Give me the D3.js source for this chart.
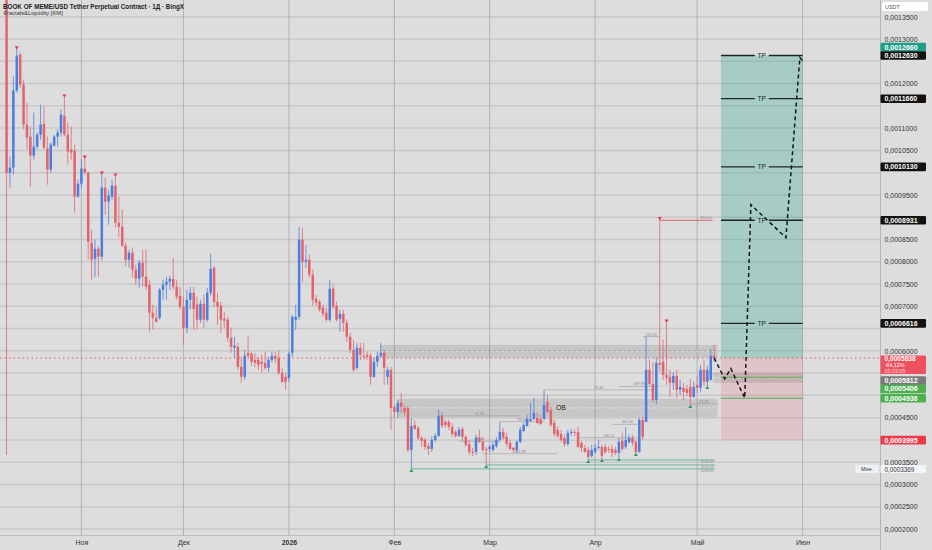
<!DOCTYPE html>
<html>
<head>
<meta charset="utf-8">
<script src="https://cdn.jsdelivr.net/npm/d3@7"></script>
<style>
  html, body { margin: 0; padding: 0; background: #dddddd; }
  svg { display: block; font-family: "Liberation Sans", Arial, sans-serif; }
</style>
</head>
<body>
<div id="vizContainer"></div>
<script>
// ---- data (daily candles, BOME/USDT, from 10 Oct 2025) ----
const firstCandle = Date.UTC(2025, 9, 10);

const opens = [
  0.00143, 0.0010000, 0.0010113, 0.0011843, 0.0012652, 0.0011978, 0.0011079, 0.0010809, 0.0010382, 0.0010585,
  0.0010854, 0.0011101, 0.0010540, 0.0010068, 0.0010607, 0.0010809, 0.0010899, 0.0011281, 0.0010854, 0.0010517,
  0.0010495, 0.0009461, 0.0009753, 0.0010090, 0.0010000, 0.0008427, 0.0008068, 0.0008292, 0.0008113, 0.0009663,
  0.0009349, 0.0009461, 0.0009708, 0.0008877, 0.0008787, 0.0008360, 0.0008045, 0.0008203, 0.0007821, 0.0007618,
  0.0007978, 0.0007663, 0.0007483, 0.0006854, 0.0006742, 0.0006742, 0.0007371, 0.0007483, 0.0007551, 0.0007618,
  0.0007438, 0.0007236, 0.0006989, 0.0006517, 0.0007146, 0.0007304, 0.0007034, 0.0006697, 0.0007056, 0.0006697,
  0.0007304, 0.0007866, 0.0007101, 0.0007011, 0.0006719, 0.0006697, 0.0006293, 0.0006068, 0.0006090, 0.0005641,
  0.0005416, 0.0005955, 0.0005933, 0.0005798, 0.0005798, 0.0005753, 0.0005731, 0.0005618, 0.0005798, 0.0005888,
  0.0005843, 0.0005506, 0.0005416, 0.0005394, 0.0005955, 0.0006697, 0.0006764, 0.0008495, 0.0008000, 0.0008045,
  0.0007708, 0.0007169, 0.0007101, 0.0006967, 0.0006854, 0.0006697, 0.0007394, 0.0007011, 0.0006719, 0.0006832,
  0.0006630, 0.0006315, 0.0006023, 0.0005618, 0.0006068, 0.0005888, 0.0005910, 0.0005888, 0.0005416, 0.0005753,
  0.0005888, 0.0005955, 0.0005416, 0.0005573, 0.0004742, 0.0004629, 0.0004832, 0.0004719, 0.0004719, 0.0003776,
  0.0004337, 0.0004270, 0.0004045, 0.0003999, 0.0003865, 0.0003798, 0.0003999, 0.0004090, 0.0004540, 0.0004405,
  0.0004405, 0.0004293, 0.0004180, 0.0004090, 0.0004248, 0.0004068, 0.0003910, 0.0003731, 0.0003731, 0.0004045,
  0.0003955, 0.0003798, 0.0003798, 0.0003776, 0.0003865, 0.0003999, 0.0004180, 0.0004068, 0.0003933, 0.0003821,
  0.0003776, 0.0003955, 0.0004203, 0.0004315, 0.0004427, 0.0004472, 0.0004495, 0.0004472, 0.0004472, 0.0004854,
  0.0004675, 0.0004382, 0.0004225, 0.0004135, 0.0004045, 0.0003910, 0.0004158, 0.0004180, 0.0004180, 0.0003933,
  0.0003821, 0.0003776, 0.0003640, 0.0003731, 0.0003821, 0.0003843, 0.0003843, 0.0003798, 0.0003798, 0.0003776,
  0.0003708, 0.0003978, 0.0003843, 0.0003955, 0.0004045, 0.0003955, 0.0003731, 0.0004450, 0.0004400, 0.0005573,
  0.0005259, 0.0004899, 0.0005731, 0.0005753, 0.0005461, 0.0005416, 0.0005281, 0.0005438, 0.0005124, 0.0005169,
  0.0005146, 0.0005191, 0.0004966, 0.0005236, 0.0005169, 0.0005573, 0.0005304, 0.0005349, 0.0005888
];
const highs = [
  0.00146, 0.0010360, 0.0012158, 0.0012764, 0.0012697, 0.0012090, 0.0011573, 0.0011034, 0.0011349, 0.0010899,
  0.0011528, 0.0011483, 0.0010809, 0.0010675, 0.0010854, 0.0010967, 0.0011416, 0.0011686, 0.0011124, 0.0011034,
  0.0010630, 0.0009843, 0.0010292, 0.0010315, 0.0010023, 0.0008719, 0.0008495, 0.0008337, 0.0009955, 0.0009888,
  0.0009618, 0.0009843, 0.0009910, 0.0009461, 0.0009169, 0.0008427, 0.0008270, 0.0008315, 0.0007933, 0.0008045,
  0.0008270, 0.0008270, 0.0007596, 0.0007034, 0.0006989, 0.0007416, 0.0007596, 0.0007663, 0.0007686, 0.0008090,
  0.0007596, 0.0007438, 0.0007214, 0.0007371, 0.0007438, 0.0007438, 0.0007214, 0.0007146, 0.0007259, 0.0007416,
  0.0008180, 0.0007910, 0.0007304, 0.0007101, 0.0006877, 0.0006764, 0.0006517, 0.0006315, 0.0006180, 0.0005866,
  0.0006023, 0.0006338, 0.0005978, 0.0005955, 0.0005866, 0.0005910, 0.0005978, 0.0005866, 0.0005978, 0.0005978,
  0.0006023, 0.0005618, 0.0005506, 0.0005978, 0.0006809, 0.0007034, 0.0008787, 0.0008764, 0.0008382, 0.0008158,
  0.0007821, 0.0007259, 0.0007146, 0.0007034, 0.0006967, 0.0007596, 0.0007483, 0.0007101, 0.0006922, 0.0006922,
  0.0006697, 0.0006405, 0.0006247, 0.0006180, 0.0006180, 0.0006180, 0.0005978, 0.0005955, 0.0005843, 0.0005978,
  0.0006180, 0.0006023, 0.0005641, 0.0005641, 0.0004787, 0.0004899, 0.0005056, 0.0004787, 0.0004764, 0.0004495,
  0.0004450, 0.0004315, 0.0004090, 0.0004045, 0.0003933, 0.0004090, 0.0004158, 0.0004675, 0.0004629, 0.0004450,
  0.0004450, 0.0004382, 0.0004225, 0.0004293, 0.0004293, 0.0004113, 0.0003999, 0.0003821, 0.0004113, 0.0004225,
  0.0004045, 0.0003843, 0.0003888, 0.0003955, 0.0004068, 0.0004405, 0.0004270, 0.0004158, 0.0003999, 0.0003843,
  0.0003999, 0.0004293, 0.0004382, 0.0004562, 0.0004832, 0.0004944, 0.0004607, 0.0004562, 0.0005124, 0.0005011,
  0.0004742, 0.0004450, 0.0004293, 0.0004225, 0.0004113, 0.0004225, 0.0004248, 0.0004225, 0.0004293, 0.0003978,
  0.0003888, 0.0003843, 0.0003888, 0.0003910, 0.0003999, 0.0003888, 0.0003910, 0.0003865, 0.0003888, 0.0003843,
  0.0004045, 0.0004158, 0.0004293, 0.0004113, 0.0004113, 0.0003999, 0.0004495, 0.0004517, 0.0006315, 0.0005798,
  0.0005753, 0.0005843, 0.0008931, 0.0006247, 0.0006630, 0.0005573, 0.0005528, 0.0005573, 0.0005349, 0.0005281,
  0.0005236, 0.0005371, 0.0005304, 0.0005438, 0.0005686, 0.0005798, 0.0005663, 0.0006045, 0.0006135
];
const lows = [
  0.0003663, 0.0009663, 0.0009955, 0.0011798, 0.0011910, 0.0010967, 0.0010517, 0.0009686, 0.0010292, 0.0010517,
  0.0010742, 0.0010517, 0.0009731, 0.0010000, 0.0010585, 0.0010585, 0.0010809, 0.0010809, 0.0010180, 0.0010292,
  0.0009101, 0.0009438, 0.0009663, 0.0009955, 0.0008045, 0.0007596, 0.0007663, 0.0007663, 0.0008045, 0.0009056,
  0.0008832, 0.0009394, 0.0008764, 0.0008562, 0.0008337, 0.0007888, 0.0007866, 0.0007641, 0.0007483, 0.0007416,
  0.0007438, 0.0007371, 0.0006427, 0.0006472, 0.0006630, 0.0006697, 0.0007146, 0.0007146, 0.0007371, 0.0007371,
  0.0007146, 0.0006922, 0.0006135, 0.0006405, 0.0006922, 0.0006472, 0.0006472, 0.0006630, 0.0006517, 0.0006652,
  0.0007236, 0.0006989, 0.0006585, 0.0006405, 0.0006517, 0.0006202, 0.0005955, 0.0005843, 0.0005573, 0.0005281,
  0.0005349, 0.0005843, 0.0005663, 0.0005641, 0.0005573, 0.0005506, 0.0005573, 0.0005528, 0.0005731, 0.0005731,
  0.0005461, 0.0005281, 0.0005124, 0.0005304, 0.0005866, 0.0006472, 0.0006697, 0.0007551, 0.0007866, 0.0007641,
  0.0007011, 0.0007011, 0.0006877, 0.0006764, 0.0006652, 0.0006652, 0.0006922, 0.0006652, 0.0006427, 0.0006427,
  0.0006202, 0.0005955, 0.0005528, 0.0005573, 0.0005798, 0.0005798, 0.0005798, 0.0005236, 0.0005394, 0.0005641,
  0.0005843, 0.0005236, 0.0005236, 0.0004225, 0.0004495, 0.0004495, 0.0004607, 0.0004540, 0.0003731, 0.0003349,
  0.0004225, 0.0003999, 0.0003843, 0.0003776, 0.0003663, 0.0003731, 0.0003955, 0.0004068, 0.0004270, 0.0004270,
  0.0004225, 0.0004068, 0.0004045, 0.0004068, 0.0003978, 0.0003843, 0.0003663, 0.0003640, 0.0003663, 0.0003933,
  0.0003731, 0.0003438, 0.0003731, 0.0003731, 0.0003821, 0.0003955, 0.0003999, 0.0003843, 0.0003776, 0.0003708,
  0.0003708, 0.0003933, 0.0004180, 0.0004293, 0.0004405, 0.0004450, 0.0004360, 0.0004337, 0.0004450, 0.0004607,
  0.0004293, 0.0004068, 0.0004045, 0.0003955, 0.0003843, 0.0003865, 0.0004090, 0.0004090, 0.0003821, 0.0003731,
  0.0003708, 0.0003551, 0.0003596, 0.0003686, 0.0003776, 0.0003573, 0.0003686, 0.0003708, 0.0003618, 0.0003663,
  0.0003596, 0.0003753, 0.0003798, 0.0003910, 0.0003865, 0.0003708, 0.0003708, 0.0003999, 0.0004405, 0.0005214,
  0.0004854, 0.0004809, 0.0005528, 0.0005349, 0.0005236, 0.0004966, 0.0005124, 0.0004944, 0.0005011, 0.0004899,
  0.0004989, 0.0004787, 0.0004944, 0.0005056, 0.0005079, 0.0005214, 0.0005214, 0.0005326, 0.0005753
];
const closes = [
  0.0010000, 0.0010113, 0.0011843, 0.0012630, 0.0011978, 0.0011079, 0.0010787, 0.0010382, 0.0010585, 0.0010854,
  0.0011079, 0.0010562, 0.0010068, 0.0010630, 0.0010809, 0.0010899, 0.0011304, 0.0010854, 0.0010472, 0.0010450,
  0.0009461, 0.0009753, 0.0010090, 0.0010000, 0.0008450, 0.0008045, 0.0008292, 0.0008113, 0.0009663, 0.0009349,
  0.0009483, 0.0009708, 0.0008877, 0.0008787, 0.0008360, 0.0008045, 0.0008203, 0.0007821, 0.0007618, 0.0007978,
  0.0007663, 0.0007438, 0.0006854, 0.0006742, 0.0006652, 0.0007371, 0.0007483, 0.0007551, 0.0007618, 0.0007438,
  0.0007214, 0.0006989, 0.0006517, 0.0007146, 0.0007304, 0.0006944, 0.0006697, 0.0007056, 0.0006697, 0.0007304,
  0.0007843, 0.0007101, 0.0006989, 0.0006697, 0.0006674, 0.0006293, 0.0006090, 0.0006113, 0.0005641, 0.0005416,
  0.0005888, 0.0005888, 0.0005753, 0.0005731, 0.0005686, 0.0005708, 0.0005618, 0.0005798, 0.0005888, 0.0005821,
  0.0005506, 0.0005304, 0.0005304, 0.0005933, 0.0006764, 0.0006764, 0.0008495, 0.0008000, 0.0008045, 0.0007708,
  0.0007146, 0.0007079, 0.0006922, 0.0006832, 0.0006697, 0.0007394, 0.0006989, 0.0006697, 0.0006832, 0.0006630,
  0.0006315, 0.0006023, 0.0005573, 0.0006068, 0.0005910, 0.0005866, 0.0005866, 0.0005416, 0.0005753, 0.0005888,
  0.0005955, 0.0005618, 0.0005573, 0.0004719, 0.0004629, 0.0004832, 0.0004742, 0.0004629, 0.0003776, 0.0004315,
  0.0004248, 0.0004045, 0.0003978, 0.0003843, 0.0003798, 0.0003999, 0.0004090, 0.0004540, 0.0004315, 0.0004337,
  0.0004293, 0.0004135, 0.0004090, 0.0004225, 0.0004068, 0.0003888, 0.0003731, 0.0003708, 0.0004045, 0.0003955,
  0.0003776, 0.0003776, 0.0003843, 0.0003888, 0.0003999, 0.0004180, 0.0004045, 0.0003910, 0.0003798, 0.0003776,
  0.0003955, 0.0004225, 0.0004337, 0.0004472, 0.0004472, 0.0004607, 0.0004382, 0.0004360, 0.0004787, 0.0004629,
  0.0004337, 0.0004135, 0.0004090, 0.0003999, 0.0003910, 0.0004158, 0.0004180, 0.0004158, 0.0003843, 0.0003821,
  0.0003731, 0.0003618, 0.0003776, 0.0003821, 0.0003843, 0.0003640, 0.0003731, 0.0003776, 0.0003708, 0.0003708,
  0.0003955, 0.0003798, 0.0003999, 0.0004045, 0.0003933, 0.0003731, 0.0004450, 0.0004068, 0.0005573, 0.0005259,
  0.0004899, 0.0005731, 0.0005686, 0.0005461, 0.0005394, 0.0005281, 0.0005438, 0.0005124, 0.0005191, 0.0005079,
  0.0005056, 0.0004966, 0.0005191, 0.0005169, 0.0005573, 0.0005304, 0.0005573, 0.0005888, 0.0005838
];

// axis ticks
const priceTicks = [0.0002, 0.00025, 0.0003, 0.00035, 0.0004, 0.00045, 0.0005, 0.00055, 0.0006, 0.00065,
  0.0007, 0.00075, 0.0008, 0.00085, 0.0009, 0.00095, 0.001, 0.00105, 0.0011, 0.00115, 0.0012, 0.00125, 0.0013, 0.00135];
const monthDates = ["2025-11-01", "2025-12-01", "2026-01-01", "2026-02-01", "2026-03-01", "2026-04-01", "2026-05-01", "2026-06-01"];
const monthLabels = ["Ноя", "Дек", "2026", "Фев", "Мар", "Апр", "Май", "Июн"];

// Fractals & Liquidity indicator (candle indexes)
const fractalHighs = [3, 17, 23, 28, 32, 192, 194];
const fractalLows = [119, 141, 171, 175, 180, 185, 201, 206];
const liquidityLows = [
  { from: 119, to: 208.2, price: 0.0003349, label: "1028.00" },
  { from: 141, to: 208.2, price: 0.0003438, label: "1121.00" },
  { from: 171, to: 208.2, price: 0.0003551, label: "1045.00" }
];
const liquidityHigh = { from: 192, to: 207.5, price: 0.0008931, label: "893.10" };
const levelLines = [
  { from: 158, to: 190, price: 0.0005124, label: "78.08" },
  { from: 127, to: 151, price: 0.000454, label: "51.50" },
  { from: 145, to: 158, price: 0.000441, label: "95.00" },
  { from: 133, to: 145, price: 0.000397, label: "79.00" },
  { from: 140, to: 162, price: 0.000369, label: "521.88" },
  { from: 168, to: 186, price: 0.000405, label: "530.50" },
  { from: 187, to: 192, price: 0.000632, label: "525.00" },
  { from: 180, to: 192, price: 0.000520, label: "489.98" },
  { from: 178, to: 187, price: 0.000435, label: "461.00" },
  { from: 201, to: 209, price: 0.000481, label: "23.44" }
];
const zones = [
  { from: 110, to: 209, top: 0.0006135, bottom: 0.0005843, label: "" },
  { from: 115, to: 209, top: 0.0004922, bottom: 0.0004517, label: "OB" },
  { from: 207.6, to: 234, top: 0.0005506, bottom: 0.0005281, label: "" }
];

// long position tool
const entryPrice = 0.0005838;
const stopPrice = 0.0003995;
const targetPrice = 0.001263;
const positionFrom = 210, positionTo = 234;
const tpLevels = [0.001263, 0.001166, 0.001013, 0.0008931, 0.0006616];
const entryLevels = [0.0005406, 0.0004936];
const projection = [
  { i: 208, p: 0.0005838 }, { i: 211.1, p: 0.000537 }, { i: 212.9, p: 0.00056 },
  { i: 217, p: 0.000494 }, { i: 218.8, p: 0.000928 }, { i: 229.1, p: 0.000854 },
  { i: 233.2, p: 0.0012585 }, { i: 234.4, p: 0.001248 }
];

// price scale badges
const badges = [
  { price: 0.001266, text: "0,0012660", fill: "#1f9e8a", dy: -7 },
  { price: 0.001263, text: "0,0012630", fill: "#121212", dy: 0 },
  { price: 0.001166, text: "0,0011660", fill: "#121212", dy: 0 },
  { price: 0.001013, text: "0,0010130", fill: "#121212", dy: 0 },
  { price: 0.0008931, text: "0,0008931", fill: "#121212", dy: 0 },
  { price: 0.0006616, text: "0,0006616", fill: "#121212", dy: 0 },
  { price: 0.0005812, text: "0,0005812", fill: "#7b7b7b", dy: 21.4 },
  { price: 0.0005406, text: "0,0005406", fill: "#4caf50", dy: 11.6 },
  { price: 0.0004936, text: "0,0004936", fill: "#4caf50", dy: 0 },
  { price: 0.0003995, text: "0,0003995", fill: "#f03a4b", dy: 0 }
];
const lastPriceLines = ["0,0005838", "-64,12%", "05:03:05"];
const minPrice = 0.0003369;

// ---- drawing ----
const width = 932, height = 550, plotR = 880, plotB = 535;
const DAY = 864e5;
const red = "#e2636d", blue = "#4a7ddf";

const container = document.getElementById("vizContainer");
const svg = d3.select(container).append("svg").attr("width", width).attr("height", height);
svg.append("rect").attr("width", width).attr("height", height).attr("fill", "#dddddd");

const x = d3.scaleUtc()
  .domain([new Date(Date.UTC(2025, 10, 1)), new Date(Date.UTC(2026, 5, 1))])
  .range([81.4, 802.6]);
const y = d3.scaleLinear().domain([0.0002, 0.00135]).range([529, 16.75]);
const dayX = i => x(new Date(firstCandle + i * DAY));

svg.append("clipPath").attr("id", "plotClip")
  .append("rect").attr("width", plotR).attr("height", plotB);
const plot = svg.append("g").attr("clip-path", "url(#plotClip)");

// grid
plot.append("g").selectAll("line").data(priceTicks).join("line")
  .attr("x1", 0).attr("x2", plotR)
  .attr("y1", d => y(d)).attr("y2", d => y(d))
  .attr("stroke", "#c8c8c8").attr("stroke-width", 1.5);
plot.append("g").selectAll("line").data(monthDates).join("line")
  .attr("x1", d => x(new Date(d))).attr("x2", d => x(new Date(d)))
  .attr("y1", 0).attr("y2", plotB)
  .attr("stroke", "#a8a8a8").attr("stroke-width", 0.8);

// position tool boxes
plot.append("rect")
  .attr("x", dayX(positionFrom)).attr("width", dayX(positionTo) - dayX(positionFrom))
  .attr("y", y(targetPrice)).attr("height", y(entryPrice) - y(targetPrice))
  .attr("fill", "rgba(8,153,129,0.25)");
plot.append("rect")
  .attr("x", dayX(positionFrom)).attr("width", dayX(positionTo) - dayX(positionFrom))
  .attr("y", y(entryPrice)).attr("height", y(stopPrice) - y(entryPrice))
  .attr("fill", "rgba(242,54,69,0.14)");

// supply / demand zones
const zoneG = plot.append("g").selectAll("g").data(zones).join("g");
zoneG.append("rect")
  .attr("x", d => dayX(d.from)).attr("width", d => dayX(d.to) - dayX(d.from))
  .attr("y", d => y(d.top)).attr("height", d => y(d.bottom) - y(d.top))
  .attr("fill", "rgba(0,0,0,0.1)");
zoneG.append("line")
  .attr("x1", d => dayX(d.from)).attr("x2", d => dayX(d.to))
  .attr("y1", d => y((d.top + d.bottom) / 2)).attr("y2", d => y((d.top + d.bottom) / 2))
  .attr("stroke", "rgba(255,255,255,0.7)").attr("stroke-width", 0.7).attr("stroke-dasharray", "3 2");
zoneG.filter(d => d.label).append("text")
  .attr("x", dayX(161.5)).attr("y", d => y((d.top + d.bottom) / 2))
  .attr("dominant-baseline", "central").attr("font-size", 6.8).attr("fill", "#222")
  .text(d => d.label);

// thin level lines with small labels
const lvl = plot.append("g").selectAll("g").data(levelLines).join("g");
lvl.append("line")
  .attr("x1", d => dayX(d.from)).attr("x2", d => dayX(d.to))
  .attr("y1", d => y(d.price)).attr("y2", d => y(d.price))
  .attr("stroke", "#9c9c9c").attr("stroke-width", 0.6);
lvl.append("text")
  .attr("x", d => dayX((d.from + d.to) / 2)).attr("y", d => y(d.price) - 1)
  .attr("text-anchor", "middle").attr("font-size", 3.6).attr("fill", "#8a8a8a")
  .text(d => d.label);

// liquidity lines from fractal lows / high
const liq = plot.append("g").selectAll("g").data(liquidityLows).join("g");
liq.append("line")
  .attr("x1", d => dayX(d.from)).attr("x2", d => dayX(d.to))
  .attr("y1", d => y(d.price)).attr("y2", d => y(d.price))
  .attr("stroke", "#5fb58f").attr("stroke-width", 0.9);
liq.append("text")
  .attr("x", d => dayX(d.to) - 1).attr("y", d => y(d.price) + 3.4)
  .attr("text-anchor", "end").attr("font-size", 3.6).attr("fill", "#8a8a8a")
  .text(d => d.label);
plot.append("line")
  .attr("x1", dayX(liquidityHigh.from)).attr("x2", dayX(liquidityHigh.to))
  .attr("y1", y(liquidityHigh.price)).attr("y2", y(liquidityHigh.price))
  .attr("stroke", "#e0505e").attr("stroke-width", 0.9);
plot.append("text")
  .attr("x", dayX(liquidityHigh.to) - 1).attr("y", y(liquidityHigh.price) - 1.5)
  .attr("text-anchor", "end").attr("font-size", 3.6).attr("fill", "#8a8a8a")
  .text(liquidityHigh.label);

// candles
const candles = closes.map((c, i) => ({ i, o: opens[i], h: highs[i], l: lows[i], c }));
const cg = plot.append("g").selectAll("g").data(candles).join("g");
cg.append("line")
  .attr("x1", d => dayX(d.i)).attr("x2", d => dayX(d.i))
  .attr("y1", d => y(d.h)).attr("y2", d => y(d.l))
  .attr("stroke", d => d.c >= d.o ? blue : red).attr("stroke-width", 0.9).attr("opacity", 0.85);
cg.append("rect")
  .attr("x", d => dayX(d.i) - 1.25).attr("width", 2.5)
  .attr("y", d => y(Math.max(d.o, d.c)))
  .attr("height", d => Math.max(0.9, Math.abs(y(d.o) - y(d.c))))
  .attr("fill", d => d.c >= d.o ? blue : red);

// fractal markers
plot.append("g").selectAll("path").data(fractalHighs).join("path")
  .attr("d", d3.symbol(d3.symbolTriangle, 7))
  .attr("transform", i => `translate(${dayX(i)},${y(highs[i]) - 2}) rotate(180)`)
  .attr("fill", "#e0394b");
plot.append("g").selectAll("path").data(fractalLows).join("path")
  .attr("d", d3.symbol(d3.symbolTriangle, 7))
  .attr("transform", i => `translate(${dayX(i)},${y(lows[i]) + 2})`)
  .attr("fill", "#2f9e6c");

// TP levels and entry levels
const tpW = dayX(positionTo) - dayX(positionFrom);
const tpMid = dayX(positionFrom) + tpW / 2;
const tp = plot.append("g").selectAll("g").data(tpLevels).join("g");
tp.append("line")
  .attr("x1", dayX(positionFrom)).attr("x2", tpMid - 7)
  .attr("y1", d => y(d)).attr("y2", d => y(d))
  .attr("stroke", "#1c2828").attr("stroke-width", 1.3);
tp.append("line")
  .attr("x1", tpMid + 7).attr("x2", dayX(positionTo))
  .attr("y1", d => y(d)).attr("y2", d => y(d))
  .attr("stroke", "#1c2828").attr("stroke-width", 1.3);
tp.append("text")
  .attr("x", tpMid).attr("y", d => y(d))
  .attr("text-anchor", "middle").attr("dominant-baseline", "central")
  .attr("font-size", 6.6).attr("fill", "#1c2828")
  .text("TP");
plot.append("g").selectAll("line").data(entryLevels).join("line")
  .attr("x1", dayX(positionFrom)).attr("x2", dayX(positionTo))
  .attr("y1", d => y(d)).attr("y2", d => y(d))
  .attr("stroke", "#4caf50").attr("stroke-width", 1.1);

// projected path
plot.append("path")
  .datum(projection)
  .attr("d", d3.line().x(d => dayX(d.i)).y(d => y(d.p)))
  .attr("fill", "none").attr("stroke", "#161616")
  .attr("stroke-width", 1.5).attr("stroke-dasharray", "4 3");

// last price line
svg.append("line")
  .attr("x1", 0).attr("x2", plotR)
  .attr("y1", y(entryPrice)).attr("y2", y(entryPrice))
  .attr("stroke", "#e85866").attr("stroke-width", 1).attr("stroke-dasharray", "1.5 3");

// axes frame
svg.append("line").attr("x1", plotR + 0.5).attr("x2", plotR + 0.5).attr("y1", 0).attr("y2", height)
  .attr("stroke", "#b4b4b4").attr("stroke-width", 1);
svg.append("line").attr("x1", 0).attr("x2", plotR).attr("y1", plotB + 0.5).attr("y2", plotB + 0.5)
  .attr("stroke", "#bdbdbd").attr("stroke-width", 1);

// right price axis: labels hidden where a badge covers them
const lpTop = y(entryPrice) - 2.6, lpBottom = lpTop + 18.6;
const badgeYs = badges.map(b => y(b.price) + b.dy);
const covered = t => {
  const ty = y(t);
  return badgeYs.some(by => Math.abs(by - ty) < 7.6) || (ty > lpTop - 3.5 && ty < lpBottom + 3.5);
};
const fmt = d => d3.format(".7f")(d).replace(".", ",");
const yAxis = svg.append("g").attr("transform", `translate(${plotR},0)`)
  .call(d3.axisRight(y).tickValues(priceTicks.filter(t => !covered(t)))
    .tickSize(0).tickPadding(4.5).tickFormat(fmt));
yAxis.select(".domain").remove();
yAxis.selectAll("text").attr("font-size", 7).attr("fill", "#333").attr("font-family", null);

// bottom time axis
const xAxis = svg.append("g").attr("transform", `translate(0,${plotB})`)
  .call(d3.axisBottom(x).tickValues(monthDates.map(d => new Date(d))).tickSize(0).tickPadding(5.5)
    .tickFormat((d, i) => monthLabels[i]));
xAxis.select(".domain").remove();
xAxis.selectAll("text").attr("font-size", 7).attr("fill", "#333").attr("font-family", null)
  .attr("font-weight", (d, i) => monthLabels[i] === "2026" ? "bold" : null);

// USDT currency box
svg.append("rect").attr("x", 882).attr("y", 2).attr("width", 46).attr("height", 9)
  .attr("rx", 2).attr("fill", "#ffffff");
svg.append("text").attr("x", 885).attr("y", 6.6).attr("dominant-baseline", "central")
  .attr("font-size", 5.4).attr("fill", "#555").text("USDT");

// price badges
const bg = svg.append("g").selectAll("g").data(badges).join("g");
bg.append("rect")
  .attr("x", plotR + 0.5).attr("width", 45.5).attr("height", 8.6).attr("rx", 1.2)
  .attr("y", d => y(d.price) + d.dy - 4.3)
  .attr("fill", d => d.fill);
bg.append("text")
  .attr("x", plotR + 4.5).attr("y", d => y(d.price) + d.dy)
  .attr("dominant-baseline", "central").attr("font-size", 7).attr("font-weight", "bold")
  .attr("fill", "#ffffff").text(d => d.text);

// last price multi-line badge
svg.append("rect").attr("x", plotR + 0.5).attr("y", lpTop).attr("width", 45.5).attr("height", lpBottom - lpTop)
  .attr("rx", 1.2).attr("fill", "#ef525e");
svg.append("g").selectAll("text").data(lastPriceLines).join("text")
  .attr("x", plotR + 4.5).attr("y", (d, i) => lpTop + 3.4 + i * 6.1)
  .attr("dominant-baseline", "central")
  .attr("font-size", (d, i) => i === 0 ? 6.6 : 5.4).attr("font-weight", (d, i) => i === 0 ? "bold" : null)
  .attr("fill", (d, i) => i === 2 ? "#ffd6da" : "#ffffff")
  .text(d => d);

// minimum price label
svg.append("rect").attr("x", 855.5).attr("y", y(minPrice) - 3.3).attr("width", 23).attr("height", 8.4)
  .attr("rx", 1.2).attr("fill", "#eef2f7");
svg.append("text").attr("x", 867).attr("y", y(minPrice) + 0.9).attr("text-anchor", "middle")
  .attr("dominant-baseline", "central").attr("font-size", 5.4).attr("fill", "#333").text("Мин.");
svg.append("rect").attr("x", plotR + 0.5).attr("y", y(minPrice) - 3.1).attr("width", 45.5).attr("height", 8)
  .attr("rx", 1.2).attr("fill", "#f3f6f9");
svg.append("text").attr("x", plotR + 4.5).attr("y", y(minPrice) + 1.1).attr("dominant-baseline", "central")
  .attr("font-size", 6.3).attr("fill", "#333").text(fmt(minPrice));

// title
svg.append("text").attr("x", 3).attr("y", 6.2).attr("dominant-baseline", "central")
  .attr("font-size", 6.3).attr("font-weight", "bold").attr("fill", "#222")
  .text("BOOK OF MEME/USD Tether Perpetual Contract · 1Д · BingX");
svg.append("text").attr("x", 3.5).attr("y", 12.8).attr("dominant-baseline", "central")
  .attr("font-size", 5.8).attr("fill", "#333")
  .text("Fractals&Liquidity [KM]");
</script>
</body>
</html>
